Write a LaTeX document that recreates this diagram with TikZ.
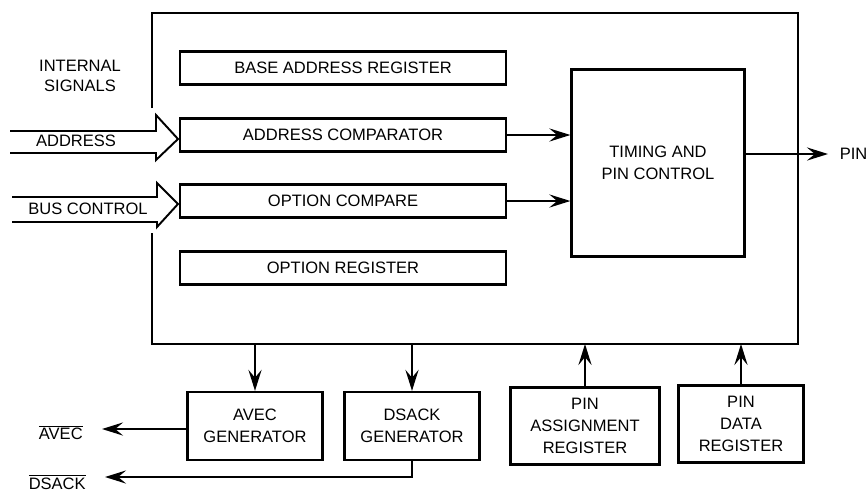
\documentclass[tikz,border=0pt]{standalone}
\usepackage{fontspec}
\setmainfont{Liberation Sans}
\usetikzlibrary{arrows.meta,positioning}

\tikzset{
  frame/.style={line width=1.5pt, line join=miter},
  busarrow/.style={line width=1.1pt, line join=miter},
  box/.style={draw, line width=1.3pt, inner sep=0pt, align=center},
  regbox/.style={box, minimum width=6.52cm, minimum height=0.66cm},
  genbox/.style={box, minimum width=2.7cm, minimum height=1.36cm},
  pinbox/.style={box, minimum height=1.54cm},
  sig/.style={line width=1pt, -{Stealth[length=12pt,width=7.5pt,inset=4.5pt]}},
  outlabel/.style={inner sep=0pt},
}

\begin{document}
\begin{tikzpicture}[x=0.02cm, y=-0.02cm, font=\fontsize{9.4}{12.5}\selectfont]
   \useasboundingbox (0,0) rectangle (868,495);

   % chip outline, open on the left for the buses
   \node[minimum width=12.92cm, minimum height=6.62cm, outer sep=0pt] (chip) at (475,178.5) {};
   \draw[frame] (chip.west |- 0,108) -- (chip.north west) -- (chip.north east)
   -- (chip.south east) -- (chip.south west) -- (chip.west |- 0,233);

   \node[align=center] (intsig) at (80,76) {INTERNAL\\[-1.5pt]SIGNALS};

   \node[regbox] (basereg) at (343,68) {BASE ADDRESS REGISTER};
   \node[regbox] (addrcmp) at (343,135) {ADDRESS COMPARATOR};
   \node[regbox] (optcmp) at (343,201) {OPTION COMPARE};
   \node[regbox] (optreg) at (343,268) {OPTION REGISTER};

   \node[box, minimum width=3.46cm, minimum height=3.74cm] (timing) at (658,163) {TIMING AND\\PIN CONTROL};

   \node[genbox] (avecgen) at (255,426) {AVEC\\GENERATOR};
   \node[genbox] (dsackgen) at (412,426) {DSACK\\GENERATOR};
   \node[pinbox, minimum width=2.98cm] (pinasg) at (585,426) {PIN\\ASSIGNMENT\\REGISTER};
   \node[pinbox, minimum width=2.5cm] (pindata) at (741,424) {PIN\\DATA\\REGISTER};

   % buses
   \draw[busarrow] (10,131) -- (156,131) -- (156,115) -- (178,139)
   -- (156,160) -- (156,153) -- (10,153);
   \node (addrbus) at (76,141) {ADDRESS};
   \draw[busarrow] (12,197) -- (157,197) -- (157,183) -- (178,204)
   -- (157,227) -- (157,222) -- (12,222);
   \node (ctrlbus) at (88,209) {BUS CONTROL};

   \draw[sig] (addrcmp.east) -- (addrcmp.east -| timing.west);
   \draw[sig] (optcmp.east) -- (optcmp.east -| timing.west);

   \coordinate (pintip) at (828,154);
   \draw[sig] (timing.east |- pintip) -- (pintip);
   \node[outlabel, right=6.5pt of pintip] (pin) {PIN};

   \draw[sig] (avecgen.north |- chip.south) -- (avecgen.north);
   \draw[sig] (dsackgen.north |- chip.south) -- (dsackgen.north);
   \draw[sig] (pinasg.north) -- (pinasg.north |- chip.south);
   \draw[sig] (pindata.north) -- (pindata.north |- chip.south);

   % strobe outputs
   \coordinate (avectip) at (102,429);
   \coordinate (dsacktip) at (105,477);
   \draw[sig] (avecgen.west |- avectip) -- (avectip);
   \draw[sig] (dsackgen.south) |- (dsacktip);
   \node[outlabel, left=10.8pt of avectip, yshift=-2pt] (avec) {$\overline{\mbox{AVEC}}$};
   \node[outlabel, left=10.8pt of dsacktip, yshift=-3pt] (dsack) {$\overline{\mbox{DSACK}}$};
\end{tikzpicture}
\end{document}
